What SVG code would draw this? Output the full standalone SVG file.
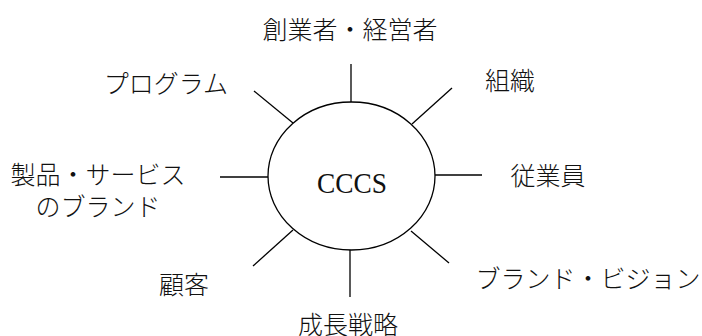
<svg xmlns="http://www.w3.org/2000/svg" width="702" height="336" viewBox="0 0 702 336">
<style>
.lbl{font-family:"Noto Sans CJK JP","Noto Sans",sans-serif;font-size:25px;font-weight:300;fill:#111;text-anchor:middle}
.ln{stroke:#000;stroke-width:1.3;fill:none}
</style>
<rect width="702" height="336" fill="#fff"/>
<g id="connectors">
<line class="ln" x1="351" y1="64" x2="351" y2="102"/>
<line class="ln" x1="254" y1="91" x2="293" y2="123"/>
<line class="ln" x1="452" y1="88" x2="412" y2="124"/>
<line class="ln" x1="220" y1="177" x2="268" y2="177"/>
<line class="ln" x1="435" y1="175" x2="482" y2="175"/>
<line class="ln" x1="253" y1="266" x2="293" y2="230"/>
<line class="ln" x1="350" y1="250" x2="350" y2="297"/>
<line class="ln" x1="411" y1="231" x2="449" y2="263"/>
</g>
<g id="center">
<ellipse class="ln" cx="351.5" cy="176" rx="83.5" ry="74" fill="#fff"/>
<text x="352" y="193" font-family="'Liberation Serif',serif" font-size="29" fill="#111" text-anchor="middle" textLength="70" lengthAdjust="spacingAndGlyphs">CCCS</text>
</g>
<g id="founder"><text class="lbl" x="350" y="39">創業者・経営者</text></g>
<g id="organization"><text class="lbl" x="510" y="90">組織</text></g>
<g id="employees"><text class="lbl" x="548" y="185">従業員</text></g>
<g id="brand-vision"><text class="lbl" x="588" y="288">ブランド・ビジョン</text></g>
<g id="growth"><text class="lbl" x="348" y="334">成長戦略</text></g>
<g id="customer"><text class="lbl" x="184" y="294">顧客</text></g>
<g id="product-brand"><text class="lbl" x="98" y="184">製品・サービス</text><text class="lbl" x="98" y="216">のブランド</text></g>
<g id="program"><text class="lbl" x="166" y="93">プログラム</text></g>
</svg>
